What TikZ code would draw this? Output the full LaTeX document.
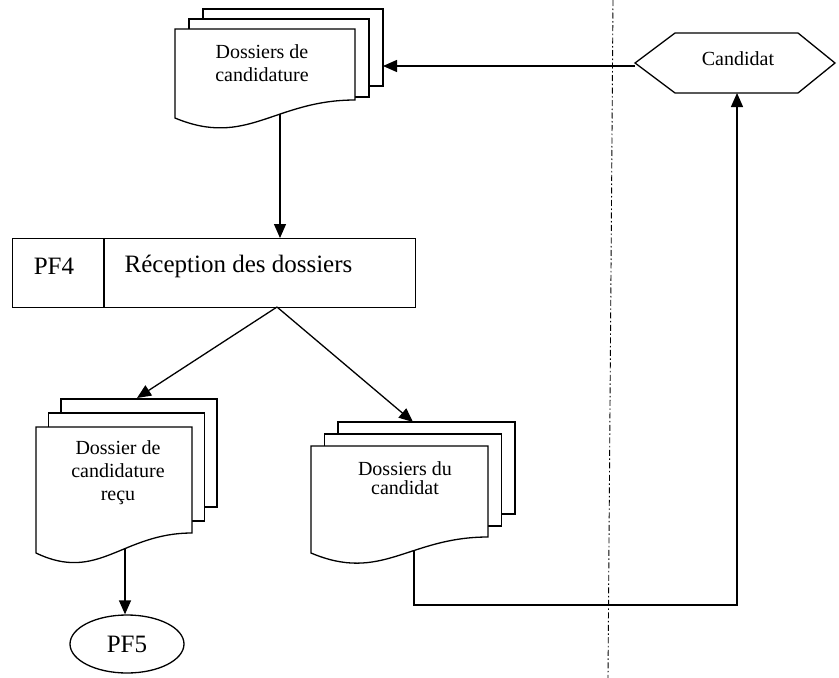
\documentclass[tikz,border=0pt]{standalone}
\usepackage{fontspec}
\setmainfont{Liberation Serif}
\usetikzlibrary{arrows.meta,shapes.geometric}
\begin{document}
\begin{tikzpicture}[x=1pt,y=-1pt,
  line width=1.3pt,
  sheet/.style={draw=black, fill=white, line width=1.3pt, line join=miter},
  flow/.style={draw=black, line width=1.3pt, -{Triangle[length=14pt,width=12pt]}},
  link/.style={draw=black, line width=1.3pt},
  lbl/.style={font=\fontsize{20}{23}\selectfont, align=center, inner sep=0pt},
  big/.style={font=\fontsize{25}{30}\selectfont, inner sep=0pt},
  boundary/.style={draw=black, line width=0.9pt, dash pattern=on 6pt off 2.5pt on 1.5pt off 2.5pt}]
\useasboundingbox (0,0) rectangle (839,678);

% stack of three documents:
% #1 left, #2 top, #3 right, #4 bottom-left, #5 bottom-right of the front sheet,
% #6 bottom of middle sheet, #7 bottom of back sheet, #8/#9 horizontal/vertical offset
\newcommand\docstack[9]{%
  \path[sheet] (#1+2*#8,#2-2*#9) rectangle (#3+2*#8,#7);
  \path[sheet] (#1+#8,#2-#9) rectangle (#3+#8,#6);
  \path[sheet] (#1,#2) -- (#3,#2) -- (#3,#5)
     .. controls ({#1+0.55*(#3-#1)},#5) and ({#1+0.4*(#3-#1)},#4+30) .. (#1,#4) -- cycle;
}

% swimlane boundary
\coordinate (laneTop) at (613,0);
\coordinate (laneBot) at (608,678);
\draw[boundary] (laneTop) -- (laneBot);

% anchor points for connectors
\coordinate (dcTop) at (280,105);
\coordinate (dcIn) at (383,66);
\coordinate (recuOut) at (125,540);
\coordinate (recuIn) at (137,398);
\coordinate (candOut) at (414,540);
\coordinate (candIn) at (413,422);
\coordinate (candLow) at (414,605);
\coordinate (hexL) at (635,66);
\coordinate (hexB) at (737,93);

% process box PF4
\node (pf4box) [draw, line width=1.3pt, minimum width=403pt, minimum height=69pt,
  anchor=north west, inner sep=0pt] at (12,238) {};
\coordinate (split) at (277,307);
\draw[link] (pf4box.north west -| 104,0) -- (pf4box.south west -| 104,0);
\node (pf4id) [big] at (54,266) {PF4};
\node (pf4name) [big, anchor=west] at (124,266) {Réception des dossiers};

% connectors (drawn before the sheets so that the sheets cover their tails)
\draw[flow] (dcTop) -- (dcTop |- pf4box.north);
\draw[flow] (split) -- (recuIn);
\draw[flow] (split) -- (candIn);
\draw[flow] (hexL) -- (dcIn);
\node (pf5) [draw, ellipse, line width=1.3pt, minimum width=114pt, minimum height=58pt,
  inner sep=0pt, big] at (127,644) {PF5};
\draw[flow] (recuOut) -- (recuOut |- pf5.north);
\draw[flow] (candOut) -- (candLow) -| (hexB);

% document stacks
\docstack{175}{29}{355}{118}{100}{97}{86}{14}{10}
\node (dc) [lbl] at (262,63) {Dossiers de\\candidature};

\docstack{36}{427}{192}{553}{533}{521}{507}{12.5}{14}
\node (recu) [lbl] at (118,473) {Dossier de\\candidature\\reçu};

\docstack{311}{446}{488}{553}{537}{526}{514}{13.5}{12}
\node (dcand) [lbl, font=\fontsize{20}{19}\selectfont] at (405,478) {Dossiers du\\candidat};

% external entity
\path[sheet] (635,63) -- (675,33) -- (798,33) -- (835,63) -- (798,93) -- (675,93) -- cycle;
\node (candidat) [lbl] at (738,59) {Candidat};
\end{tikzpicture}
\end{document}
